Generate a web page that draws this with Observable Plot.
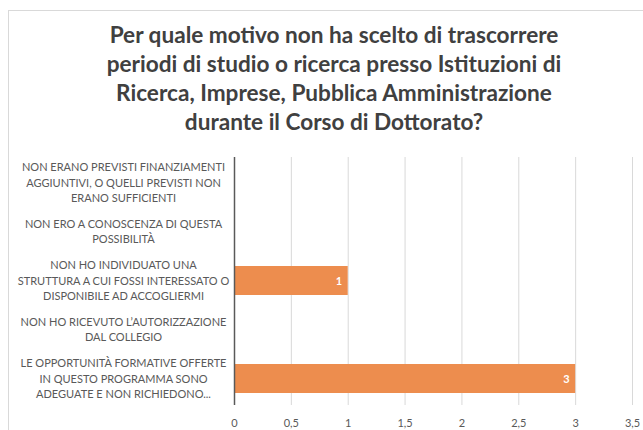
<!DOCTYPE html>
<html><head><meta charset="utf-8">
<script src="https://cdn.jsdelivr.net/npm/d3@7"></script>
<script src="https://cdn.jsdelivr.net/npm/@observablehq/plot@0.6"></script>
<style>
body{margin:0;background:#fff;}
#wrap{position:relative;width:643px;height:430px;overflow:hidden;font-family:Lato,"Open Sans",sans-serif;background:#fff;}
#frame{position:absolute;left:8px;top:10px;width:700px;height:500px;border:1px solid #d9d9d9;box-sizing:border-box;}
#title{position:absolute;left:0;top:20px;width:668px;text-align:center;font-weight:bold;font-size:22.6px;line-height:29px;color:#404040;}
#chart{position:absolute;left:0;top:150px;}
</style></head>
<body>
<div id="wrap">
<div id="frame"></div>
<div id="title">Per quale motivo non ha scelto di trascorrere<br>periodi di studio o ricerca presso Istituzioni di<br>Ricerca, Imprese, Pubblica Amministrazione<br>durante il Corso di Dottorato?</div>
<div id="chart"></div>
</div>
<script>
const categories = [
  "NON ERANO PREVISTI FINANZIAMENTI\nAGGIUNTIVI, O QUELLI PREVISTI NON\nERANO SUFFICIENTI",
  "NON ERO A CONOSCENZA DI QUESTA\nPOSSIBILITÀ",
  "NON HO INDIVIDUATO UNA\nSTRUTTURA A CUI FOSSI INTERESSATO O\nDISPONIBILE AD ACCOGLIERMI",
  "NON HO RICEVUTO L’AUTORIZZAZIONE\nDAL COLLEGIO",
  "LE OPPORTUNITÀ FORMATIVE OFFERTE\nIN QUESTO PROGRAMMA SONO\nADEGUATE E NON RICHIEDONO..."
];
const values = [0, 0, 1, 0, 3];
const xTicks = [0, 0.5, 1, 1.5, 2, 2.5, 3, 3.5];

const data = categories.map((c, i) => ({cat: c, value: values[i]}));
const fmt = d => String(d).replace(".", ",");

// one entry per label line, so every line can be centred on its own
const lineStep = 15.2;
const labelLines = categories.flatMap(c => {
  const ls = c.split("\n");
  return ls.map((t, j) => ({cat: c, t, off: (j - (ls.length - 1) / 2) * lineStep}));
});
const offsets = [...new Set(labelLines.map(d => d.off))];

const chart = Plot.plot({
  width: 643,
  height: 280,
  marginTop: 7,
  marginBottom: 25,
  marginLeft: 234,
  marginRight: 11,
  style: {fontFamily: "Lato, 'Open Sans', sans-serif", background: "transparent"},
  x: {domain: [0, 3.5], axis: null, label: null},
  y: {domain: categories, paddingInner: 0.4, paddingOuter: 0.2, axis: null, label: null},
  marks: [
    Plot.gridX(xTicks.filter(d => d > 0), {stroke: "#d9d9d9", strokeOpacity: 1, strokeWidth: 1}),
    Plot.barX(data, {x: "value", y: "cat", fill: "#ED8D4E"}),
    Plot.ruleX([0], {stroke: "#595959", strokeWidth: 1.5}),
    Plot.text(data.filter(d => d.value > 0), {x: "value", y: "cat", text: d => fmt(d.value), textAnchor: "end", dx: -6, fill: "#ffffff", fontWeight: "bold", fontSize: 11}),
    ...offsets.map(o => Plot.text(labelLines.filter(d => d.off === o), {x: 0, y: "cat", text: "t", textAnchor: "middle", dx: -111, dy: o, fill: "#595959", fontSize: 11})),
    Plot.axisX({ticks: xTicks, tickSize: 0, tickPadding: 14, tickFormat: fmt, fontSize: 11, color: "#595959", label: null})
  ]
});
document.getElementById("chart").appendChild(chart);
</script>
</body></html>
